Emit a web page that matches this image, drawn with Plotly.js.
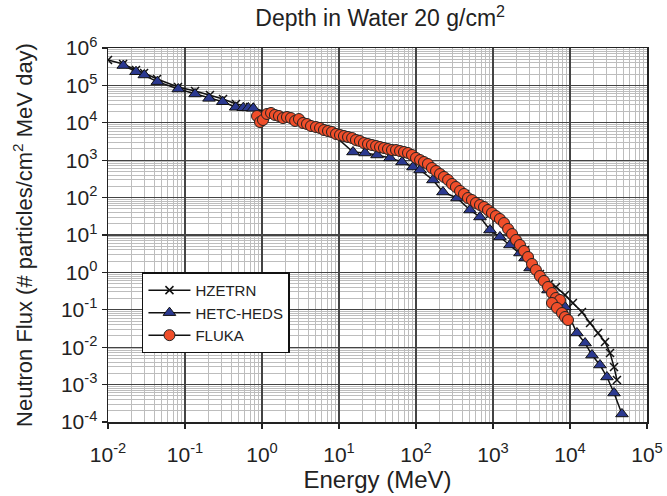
<!DOCTYPE html>
<html>
<head>
<meta charset="utf-8">
<script src="https://cdn.plot.ly/plotly-3.0.1.min.js"></script>
<style>html,body{margin:0;padding:0;background:#fff;}#chart{width:667px;height:496px;}</style>
</head>
<body>
<div id="chart"></div>
<script>
// HZETRN (energy MeV, flux)
var hzetrnE = [0.01, 0.0157, 0.0231, 0.0294, 0.0433, 0.0811, 0.135, 0.211, 0.312, 0.459, 0.698,
  1.27, 3.12, 7.64, 18.7, 45.9, 100, 205, 433, 914, 1660, 2610, 4070, 5340,
  6580, 8610, 10900, 14300, 18200, 23100, 28500, 33100, 37300, 40700];
var hzetrnF = [4.78e5, 3.73e5, 2.58e5, 2.15e5, 1.48e5, 9.06e4, 7.08e4, 5.53e4, 4.33e4, 3.18e4, 2.64e4,
  1.72e4, 1.12e4, 5.68e3, 3.07e3, 1.99e3, 1.15e3, 427, 125, 36.4, 12.0, 3.97, 0.906, 0.49,
  0.407, 0.249, 0.152, 0.0873, 0.0444, 0.0240, 0.0138, 0.0070, 0.00296, 0.00133];

// HETC-HEDS
var hetcE = [0.0158, 0.0231, 0.0296, 0.0437, 0.0818, 0.135, 0.205, 0.309, 0.455, 0.571, 0.664, 0.77,
  3.12, 7.64, 15.2, 21.8, 31.2, 45.9, 65.8, 91.4, 113, 166, 224, 341, 502, 678, 914, 1230, 1660, 2240,
  2610, 3030, 5180, 8610, 12300, 15700, 19300, 24500, 30200, 37300, 47300];
var hetcF = [3.4e5, 2.32e5, 1.9e5, 1.26e5, 8.0e4, 5.9e4, 4.5e4, 3.66e4, 2.6e4, 2.53e4, 2.5e4, 2.44e4,
  1.15e4, 5.8e3, 1660, 1560, 1380, 1150, 895, 658, 547, 296, 141, 97.5, 46.6, 30.3, 13.6, 8.85, 5.41, 3.30,
  2.43, 1.31, 0.338, 0.119, 0.0240, 0.0129, 0.00618, 0.00334, 0.0016, 5.96e-4, 1.64e-4];

// FLUKA
var flukaE = [0.861, 0.942, 1.03, 1.16, 1.31, 1.47, 1.66, 1.87, 2.11, 2.38, 2.69, 3.02, 3.41, 3.84, 4.33,
  5.02, 5.67, 6.38, 7.20, 8.11, 9.14, 10.3, 11.6, 13.1, 14.8, 16.6, 18.7, 21.1, 23.8, 26.8, 30.3, 34.1,
  38.4, 43.3, 48.8, 55.0, 62.0, 69.8, 78.7, 88.7, 100, 113, 127, 143, 161, 182, 205, 231, 261, 294, 330,
  373, 420, 473, 533, 601, 678, 764, 861, 970, 1090, 1230, 1390, 1570, 1770, 1990, 2240, 2530, 2850,
  3210, 3610, 4070, 4590, 5180, 5830, 6570, 7410, 5830, 6770, 7870, 8610, 9420];
var flukaF = [1.52e4, 1.05e4, 1.19e4, 1.72e4, 1.83e4, 1.62e4, 1.52e4, 1.34e4, 1.43e4, 1.34e4, 1.12e4, 1.26e4,
  9.88e3, 9.29e3, 8.21e3, 7.72e3, 7.26e3, 6.42e3, 6.04e3, 5.68e3, 5.02e3, 4.72e3, 4.44e3, 4.17e3, 3.92e3,
  3.47e3, 3.26e3, 2.88e3, 2.71e3, 2.55e3, 2.40e3, 2.25e3, 2.12e3, 1.99e3, 1.87e3, 1.87e3, 1.76e3, 1.66e3,
  1.56e3, 1.38e3, 1.15e3, 1.01e3, 895, 791, 618, 514, 427, 356, 296, 231, 192, 150, 125, 97.5, 86.3, 71.8,
  63.4, 56.1, 46.6, 38.7, 32.2, 26.8, 20.9, 14.5, 10.6, 7.35, 5.41, 3.73, 2.58, 1.68, 1.16, 0.801, 0.589,
  0.407, 0.281, 0.207, 0.183, 0.152, 0.112, 0.0820, 0.0641, 0.0533];

var xTickVals = [0.01, 0.1, 1, 10, 100, 1000, 10000, 100000];
var xTickText = ['10<sup>-2</sup>', '10<sup>-1</sup>', '10<sup>0</sup>', '10<sup>1</sup>', '10<sup>2</sup>',
  '10<sup>3</sup>', '10<sup>4</sup>', '10<sup>5</sup>'];
var yTickVals = [1e-4, 1e-3, 1e-2, 1e-1, 1, 10, 100, 1000, 1e4, 1e5, 1e6];
var yTickText = ['10<sup>-4</sup>', '10<sup>-3</sup>', '10<sup>-2</sup>', '10<sup>-1</sup>', '10<sup>0</sup>',
  '10<sup>1</sup>', '10<sup>2</sup>', '10<sup>3</sup>', '10<sup>4</sup>', '10<sup>5</sup>', '10<sup>6</sup>'];

var FONT = 'Liberation Sans, Arial, Helvetica, sans-serif';

var traces = [
  {x: hzetrnE, y: hzetrnF, name: 'HZETRN', mode: 'lines+markers', type: 'scatter',
   line: {color: '#111', width: 1.5},
   marker: {symbol: 'x-thin', size: 8, color: '#111', line: {color: '#111', width: 1.5}}},
  {x: hetcE, y: hetcF, name: 'HETC-HEDS', mode: 'lines+markers', type: 'scatter',
   line: {color: '#111', width: 1.5},
   marker: {symbol: 'triangle-up', size: 11, color: '#2b3990', line: {color: '#111', width: 1}}},
  {x: flukaE, y: flukaF, name: 'FLUKA', mode: 'lines+markers', type: 'scatter',
   line: {color: '#111', width: 1.5},
   marker: {symbol: 'circle', size: 11, color: '#f04e2a', line: {color: '#222', width: 1}}}
];

var axisCommon = {
  type: 'log', showline: true, mirror: true, linecolor: '#222', linewidth: 1.5,
  showgrid: true, gridcolor: '#444', gridwidth: 1.2, zeroline: false,
  ticks: 'outside', ticklen: 5, tickcolor: '#222', tickwidth: 1.2,
  tickfont: {family: FONT, size: 21, color: '#222'},
  minor: {showgrid: true, gridcolor: '#bdbdbd', gridwidth: 1, dtick: 'D1', ticks: ''}
};

var layout = {
  width: 667, height: 496,
  margin: {l: 108, r: 20, t: 48, b: 74},
  paper_bgcolor: '#fff', plot_bgcolor: '#fff',
  font: {family: FONT, color: '#222'},
  title: {text: 'Depth in Water 20 g/cm<sup>2</sup>', font: {family: FONT, size: 23, color: '#222'},
          x: 0.57, xanchor: 'center', y: 0.963, yanchor: 'middle'},
  xaxis: Object.assign({}, axisCommon, {
    range: [-2, 5], tickmode: 'array', tickvals: xTickVals, ticktext: xTickText,
    ticklabelstandoff: 8,
    title: {text: 'Energy (MeV)', font: {family: FONT, size: 24, color: '#222'}, standoff: 3}
  }),
  yaxis: Object.assign({}, axisCommon, {
    range: [-4, 6], tickmode: 'array', tickvals: yTickVals, ticktext: yTickText,
    title: {text: 'Neutron Flux (# particles/cm<sup>2</sup> MeV day)', font: {family: FONT, size: 22, color: '#222'}, standoff: 22}
  }),
  showlegend: true,
  legend: {x: 0.063, y: 0.40, xanchor: 'left', yanchor: 'top', bgcolor: '#fff', itemwidth: 42,
           bordercolor: '#111', borderwidth: 1.5, font: {family: FONT, size: 15, color: '#222'}}
};

Plotly.newPlot('chart', traces, layout, {staticPlot: true, displayModeBar: false});
</script>
</body>
</html>
